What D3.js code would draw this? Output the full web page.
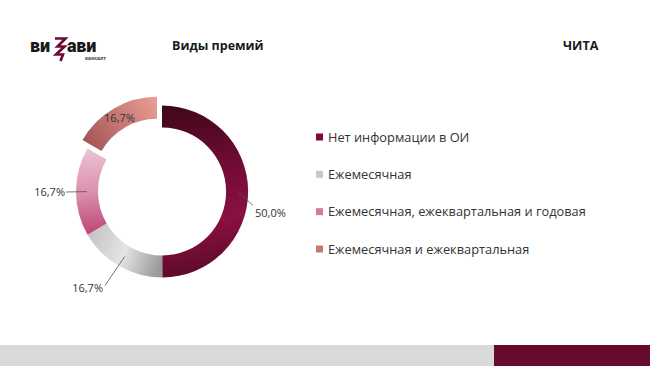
<!DOCTYPE html>
<html><head><meta charset="utf-8">
<script src="https://cdn.jsdelivr.net/npm/d3@7"></script>
<style>
html,body{margin:0;padding:0;background:#fff;}
svg{display:block;font-family:"Open Sans",sans-serif;}
</style></head>
<body>
<svg id="c" width="650" height="366"></svg>
<script>
const categories = ["Нет информации в ОИ","Ежемесячная","Ежемесячная, ежеквартальная и годовая","Ежемесячная и ежеквартальная"];
const values = [50.0, 16.7, 16.7, 16.7];
const valueLabels = ["50,0%","16,7%","16,7%","16,7%"];
const title = "Виды премий";
const city = "ЧИТА";

const svg = d3.select("#c");

// bottom bars
svg.append("rect").attr("x",0).attr("y",345).attr("width",494).attr("height",21).attr("fill","#d9d9d9");
svg.append("rect").attr("x",494).attr("y",345).attr("width",156).attr("height",21).attr("fill","#680a2e");

// logo
const logo = svg.append("g");
logo.append("text").attr("x",30).attr("y",52).attr("font-family","Roboto, 'Open Sans', sans-serif")
  .attr("font-weight",900).attr("font-size",18).attr("fill","#1a1a1a").attr("letter-spacing","-0.2").text("ви");
logo.append("path").attr("d","M55,38.5 L65.5,38.5 L57.5,46.5 L64.5,46.5 L56,54.5 L63,54.5 L60.5,61")
  .attr("fill","none").attr("stroke","#6a0a2e").attr("stroke-width",2.6).attr("stroke-linejoin","miter");
logo.append("text").attr("x",67).attr("y",52).attr("font-family","Roboto, 'Open Sans', sans-serif")
  .attr("font-weight",900).attr("font-size",18).attr("fill","#1a1a1a").attr("letter-spacing","-0.2").text("ави");
logo.append("text").attr("x",85).attr("y",59.5).attr("font-size",5).attr("font-weight",700).attr("fill","#333").text("консалт");

// titles
svg.append("text").attr("x",172).attr("y",50).attr("font-size",12.5).attr("font-weight",700).attr("fill","#1a1a1a").text(title);
svg.append("text").attr("x",563).attr("y",50).attr("font-size",12.5).attr("font-weight",700).attr("fill","#1a1a1a").text(city);

// gradients (coordinates relative to donut centre)
const defs = svg.append("defs");
function lg(id, x1,y1,x2,y2, stops){
  const g = defs.append("linearGradient").attr("id",id).attr("gradientUnits","userSpaceOnUse")
    .attr("x1",x1).attr("y1",y1).attr("x2",x2).attr("y2",y2);
  stops.forEach(s=>g.append("stop").attr("offset",s[0]).attr("stop-color",s[1]));
}
const cx = 162, cy = 191.5, R = 86, r = 64;
lg("g0", 0, -86, 30, 86, [[0,"#3e0719"],[0.45,"#760c37"],[0.7,"#8a1042"],[1,"#5a0a29"]]);
lg("g1", -80, 40, 0, 70, [[0,"#bdbdbd"],[0.55,"#e4e4e4"],[1,"#9a9a9a"]]);
lg("g2", -70, -45, -60, 45, [[0,"#ecc6d5"],[0.5,"#da90ad"],[1,"#bb3f70"]]);
lg("g3", -10, -95, -75, -50, [[0,"#e89c92"],[1,"#a65858"]]);
const fills = ["url(#g0)","url(#g1)","url(#g2)","url(#g3)"];
const legendColors = ["#7a0c38","#c8c8c8","#d87aa0","#c87874"];
const explode = [0,0,0,10];

const pie = d3.pie().sort(null).value(d=>d)(values);
const arc = d3.arc().innerRadius(r).outerRadius(R);
const g = svg.append("g").attr("transform",`translate(${cx},${cy})`);
pie.forEach((p,i)=>{
  const mid = (p.startAngle+p.endAngle)/2;
  const dx = Math.sin(mid)*explode[i], dy = -Math.cos(mid)*explode[i];
  g.append("path").attr("d",arc(p)).attr("fill",fills[i])
    .attr("transform",`translate(${dx},${dy})`);
});

// labels
const lineCol = "#555";
const labelSpec = [
  {inside:false, r1:76, end:[91,14], tx:93, ty:25, anchor:"start"},
  {inside:false, r1:75, end:[-57,94], tx:-59, ty:100, anchor:"end"},
  {inside:false, r1:75, end:[-96,0.5], tx:-97, ty:4, anchor:"end"},
  {inside:true}
];
pie.forEach((p,i)=>{
  const mid = (p.startAngle+p.endAngle)/2;
  const s = labelSpec[i];
  if (s.inside){
    const rr = (r+R)/2 + explode[i];
    g.append("text").attr("x",Math.sin(mid)*rr).attr("y",-Math.cos(mid)*rr+4)
      .attr("text-anchor","middle").attr("font-size",11).attr("fill","#333").text(valueLabels[i]);
  } else {
    const x0 = Math.sin(mid)*s.r1, y0 = -Math.cos(mid)*s.r1;
    g.append("line").attr("x1",x0).attr("y1",y0).attr("x2",s.end[0]).attr("y2",s.end[1])
      .attr("stroke",lineCol).attr("stroke-width",0.8);
    g.append("text").attr("x",s.tx).attr("y",s.ty).attr("text-anchor",s.anchor)
      .attr("font-size",11).attr("fill","#333").text(valueLabels[i]);
  }
});

// legend
const ly = d3.scalePoint().domain(categories).range([137,249]);
const leg = svg.append("g");
categories.forEach((c,i)=>{
  leg.append("rect").attr("x",316).attr("y",ly(c)-3.5).attr("width",7).attr("height",7).attr("fill",legendColors[i]);
  leg.append("text").attr("x",328).attr("y",ly(c)+4.5).attr("font-size",12.8).attr("fill","#333").text(c);
});
</script>
</body></html>
